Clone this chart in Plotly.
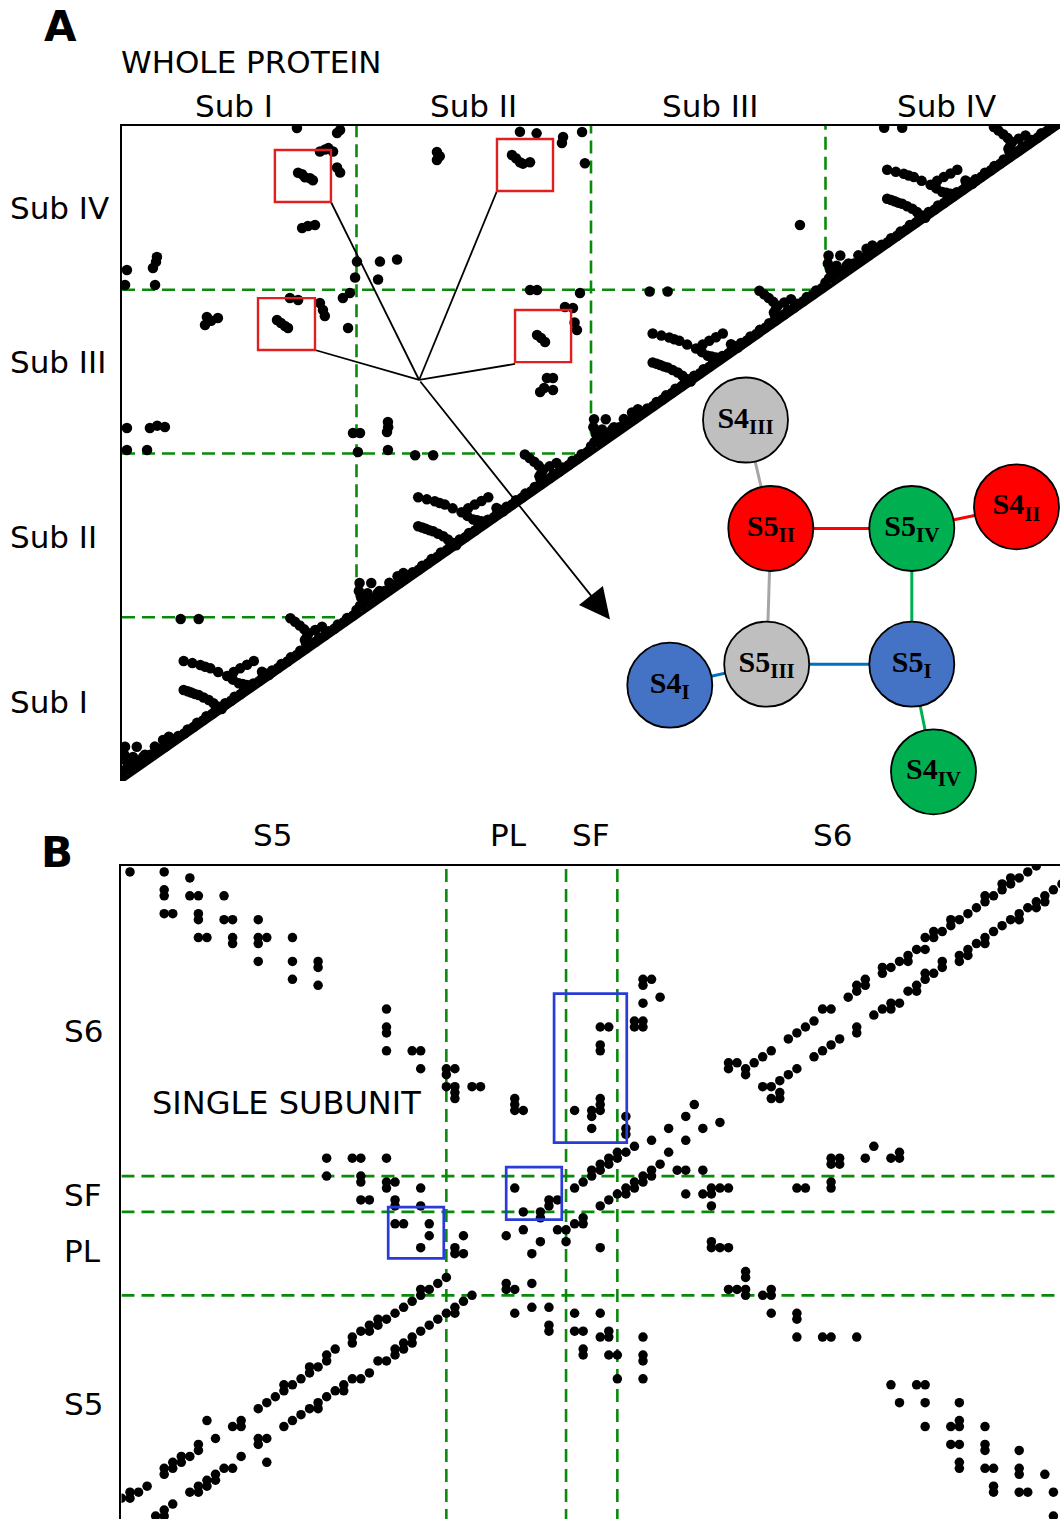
import plotly.graph_objects as go

FIG_W, FIG_H = 1060, 1519

# ======================= Panel A : whole protein =======================
A_SUBUNITS = ["Sub I", "Sub II", "Sub III", "Sub IV"]
A_SUB_LEN = 100
A_BOUNDS = [100, 200, 300]
A_TOP_LABEL_POS = [47.8, 149.7, 250.7, 351.4]
A_LEFT_LABEL_POS = [48, 149, 256, 350]

# intra-subunit contacts (relative to the subunit start), same in every subunit
A_INTRA_BAND = [(0, 4.5), (2.5, 7), (4, 9), (6.5, 10), (8, 12), (10.5, 13.5), (12, 16), (14.5, 17.5),
                (16, 19.5), (18.5, 21), (20, 23.5), (22.5, 25.5), (24, 27.5), (26.5, 29), (28, 31.5),
                (30.5, 33), (32, 35.5), (34.5, 37), (36, 39.5), (38.5, 41), (40, 43.5), (42.5, 45),
                (44, 47.5), (46.5, 49), (48, 51.5), (50.5, 53), (52, 55.5), (54.5, 57), (56, 59.5),
                (58.5, 61), (60, 63.5), (62.5, 65), (64, 67.5), (66.5, 69), (68, 71.5), (70.5, 73),
                (72, 75.5), (74.5, 77), (76, 79.5), (78.5, 81), (80, 83.5), (82.5, 85), (84, 87.5),
                (86.5, 89), (88, 91.5), (90.5, 93), (92, 95.5), (94.5, 97), (96, 99.5), (98.5, 101)]
A_INTRA_CORNER = [(1.3, 20.9), (6.3, 20.9), (9.8, 16), (17.5, 25), (4.7, 14.7), (9, 14.7),
                  (2, 12), (1, 16), (14, 21), (20, 27), (1.5, 7), (4, 11)]
A_INTRA_STREAK1 = [(26.3, 55.6), (28, 54.8), (29.5, 54), (31, 53.2), (32.7, 52.5), (34.8, 51),
                   (37, 49.5), (39, 47.5), (41.2, 45.4), (42.5, 44)]
A_INTRA_STREAK2 = [(26.3, 73.3), (30, 72), (33.4, 70.8), (35.5, 69.8), (37.7, 68.8), (41, 66.5),
                   (44.8, 64.1), (47.6, 66.5), (50.4, 68.8), (53.3, 71), (56.2, 73.3), (47.3, 61.9),
                   (49.8, 59.7), (51.5, 59.2), (53.3, 58.6), (59.7, 66.7), (61, 65.7), (62.6, 64.7),
                   (64, 66.5)]
A_INTRA_STREAK3 = [(71.8, 99.4), (73.8, 97.2), (75.8, 95), (77.7, 92.6), (79.6, 90.2), (78.8, 88),
                   (78, 86.1), (78.5, 84), (82.4, 92.2), (85.3, 94.2)]
A_INTRA_EDGE = [(25, 98.9), (32.7, 98.9)]

# inter-subunit contacts (absolute positions)
A_INTER = [(74.6, 398.8), (93.0, 397.6), (91.7, 395.7), (86.6, 385.6), (90.0, 384.4), (84.4, 384.4),
           (88, 386.5), (91.7, 374.7), (93.0, 371.6), (75.1, 371.5), (76.8, 370.5), (78.0, 368.7),
           (80.2, 368.1), (81.4, 366.9), (76.8, 337.7), (79.3, 338.9), (82.3, 339.5), (2.1, 312.1),
           (1.3, 302.9), (14.9, 320), (13.2, 313.3), (14.1, 302.9), (14.5, 317),
           (100.2, 317.2), (110, 317.2), (117.3, 318.5), (99.4, 307.5), (109.2, 306.3),
           (134.3, 384.1), (134.3, 379.2), (135.5, 381.5), (166.3, 382.3), (168, 380.3),
           (169.7, 377.9), (171, 377), (176.8, 395.5), (188.1, 393.3), (187.6, 389.6),
           (196.2, 396.3), (197.4, 377.3), (174, 377.9), (169.7, 396.5), (289.1, 339.5),
           (71.6, 295), (75.1, 293.7), (84.4, 291.9), (85.7, 287.6), (94.2, 295), (97.2, 298),
           (96.4, 276.6), (86.5, 284), (36.2, 283.4), (40.9, 282.7), (35.4, 278.5), (38, 281),
           (66.1, 281.5), (67.8, 279.7), (69.5, 277.9), (70.8, 276.6), (2.1, 215.6), (11.9, 215.6),
           (18.3, 216.2), (2.1, 202.1), (10.7, 202.1), (15, 217), (98.5, 212.5),
           (101.5, 212.5), (113.4, 219.2), (113, 213.1), (113.4, 202.1), (100.6, 200.9),
           (113.5, 216), (177, 299.8), (174, 299.8), (195.3, 298), (192.3, 288.9), (188.9, 289.5),
           (194, 275.4), (193, 280), (177, 272.4), (178.7, 270.5), (180.4, 268.1), (181.2, 246.1),
           (183.8, 246.1), (178.3, 237.6), (183.8, 238.8), (180, 240)]

A_RED_BOXES = [(65.2, 89.1, 353.6, 385.3), (58.0, 82.3, 263.2, 294.9),
               (159.9, 183.8, 360.3, 392.1), (167.6, 191.5, 255.8, 287.6)]
A_BOX_ANCHORS = [(89.1, 353.6), (159.9, 360.3), (82.3, 263.2), (167.6, 254.7)]
A_HUB = (126.7, 244.9)
A_ARROW_TIP = (208.1, 98.7)

# ======================= Network diagram =======================
NET_LABELS = ["<b>S4<sub>III</sub></b>", "<b>S5<sub>II</sub></b>", "<b>S5<sub>IV</sub></b>",
              "<b>S4<sub>II</sub></b>", "<b>S5<sub>III</sub></b>", "<b>S5<sub>I</sub></b>",
              "<b>S4<sub>I</sub></b>", "<b>S4<sub>IV</sub></b>"]
NET_X = [12.55, 15.08, 29.18, 39.65, 14.67, 29.18, 4.98, 31.35]
NET_Y = [40.0, 29.15, 29.15, 31.32, 15.58, 15.58, 13.48, 4.82]
NET_COLORS = ["#bfbfbf", "#ff0000", "#00b050", "#ff0000", "#bfbfbf", "#4472c4", "#4472c4", "#00b050"]
NET_EDGES = [(0, 1, "#a6a6a6"), (1, 4, "#a6a6a6"), (1, 2, "#ff0000"), (2, 3, "#ff0000"),
             (2, 5, "#00b050"), (5, 7, "#00b050"), (4, 5, "#0070c0"), (6, 4, "#0070c0")]

# ======================= Panel B : single subunit =======================
B_SEGMENTS = ["S5", "PL", "SF", "S6"]
B_BOUNDS = [38, 52, 58]
B_TOP_LABEL_POS = [17.7, 45.3, 54.9, 83.2]
B_LEFT_LABEL_POS = [19.8, 45.4, 54.8, 82.4]
B_BLUE_BOXES = [(50.6, 59.1, 63.6, 88.6), (45.0, 51.5, 50.7, 59.5), (31.2, 37.7, 44.2, 52.8)]

# residue contacts (i < j); the map is symmetric
B_HELIX_S5 = [(0, 4), (1, 4), (1, 5), (2, 5), (3, 6), (5, 8), (5, 9), (6, 9), (6, 10), (7, 10), (7, 11),
              (8, 11), (9, 12), (9, 13), (10, 17), (11, 14), (13, 16), (14, 16), (14, 17), (16, 19),
              (17, 20), (18, 21), (19, 22), (19, 23), (20, 23), (21, 24), (22, 25), (22, 26), (23, 26),
              (24, 27), (24, 28), (25, 29), (27, 30), (27, 31), (28, 32), (29, 32), (29, 33), (30, 33),
              (30, 34), (31, 34), (32, 35), (33, 36), (34, 37), (35, 38), (35, 39), (36, 39), (37, 40),
              (38, 41)]
B_HELIX_SF = [(53, 56), (54, 57), (55, 58), (55, 59), (56, 59), (56, 60), (57, 60), (57, 61), (58, 61),
              (58, 62), (59, 62), (60, 63), (62, 64), (64, 66), (66, 68), (67, 70)]
B_HELIX_S6 = [(71, 76), (71, 77), (72, 77), (73, 75), (73, 76), (74, 77), (75, 78), (76, 79), (78, 81),
              (79, 82), (80, 83), (81, 84), (82, 86), (83, 86), (85, 88), (86, 89), (86, 90), (87, 90),
              (87, 91), (89, 92), (89, 93), (90, 93), (91, 94), (92, 94), (92, 95), (93, 96), (94, 96),
              (94, 98), (95, 98), (95, 99), (96, 99), (97, 100), (97, 101), (98, 101), (99, 102),
              (100, 103), (101, 104), (101, 105), (102, 105), (103, 106), (103, 107), (104, 107),
              (104, 108), (105, 108), (106, 109), (107, 110)]
B_S5_S6 = [(1, 109), (5, 109), (8, 108), (5, 106), (5, 105), (8, 105), (9, 105), (12, 105), (5, 102),
           (6, 102), (9, 102), (9, 101), (12, 101), (13, 101), (16, 101), (9, 98), (10, 98), (13, 98),
           (13, 97), (16, 98), (16, 97), (17, 98), (20, 98), (16, 94), (20, 94), (23, 94), (23, 93),
           (20, 91), (23, 90), (31, 86), (31, 83), (31, 82), (31, 79), (34, 79), (35, 79), (35, 76),
           (38, 76), (39, 76), (38, 75), (38, 73), (39, 73), (39, 72), (39, 71), (41, 73), (42, 73),
           (46, 71), (46, 70), (46, 69), (47, 69)]
B_PLSF_S6 = [(53, 69), (55, 69), (55, 68), (55, 66), (56, 71), (56, 70), (56, 69), (56, 83), (57, 83),
             (56, 80), (56, 79), (59, 68), (59, 66), (59, 65), (60, 83), (60, 84), (61, 83), (61, 84),
             (61, 87), (61, 90), (61, 91), (62, 91), (63, 88)]
B_S5_SF = [(24, 61), (27, 61), (28, 61), (31, 61), (24, 58), (28, 58), (28, 57), (31, 57), (32, 57),
           (31, 56), (35, 56), (28, 54), (29, 54), (32, 54), (32, 53), (35, 53)]
B_S5_PL = [(32, 50), (33, 50), (36, 50), (36, 48), (35, 46), (39, 46), (39, 45), (40, 45), (40, 48)]
B_PL_SF = [(45, 48), (47, 49), (46, 56), (47, 52), (49, 52), (49, 51), (50, 54), (50, 53), (51, 54)]

# ======================= geometry of the page =======================
A_LEFT, A_RIGHT, A_TOP, A_BOTTOM = 122, 1060, 126, 781
B_LEFT, B_RIGHT, B_TOP, B_BOTTOM = 121.45, 1060, 866, 1519
N_LEFT, N_RIGHT, N_TOP, N_BOTTOM = 620, 1060, 370, 820


def xdom(l, r):
    return [l / FIG_W, r / FIG_W]


def ydom(t, b):
    return [(FIG_H - b) / FIG_H, (FIG_H - t) / FIG_H]


GREEN = "#0a8a0a"
DASH = dict(color=GREEN, width=2.6, dash="13px,7px")
FONT = "DejaVu Sans"

fig = go.Figure()

# ---------- Panel A ----------
ax_pts, ay_pts = [], []
intra = A_INTRA_BAND + A_INTRA_CORNER + A_INTRA_STREAK1 + A_INTRA_STREAK2 + A_INTRA_STREAK3 + A_INTRA_EDGE
for s in range(len(A_SUBUNITS)):
    for (u, v) in intra:
        ax_pts.append(s * A_SUB_LEN + u)
        ay_pts.append(s * A_SUB_LEN + v)
for (u, v) in A_INTER:
    ax_pts.append(u)
    ay_pts.append(v)

total = A_SUB_LEN * len(A_SUBUNITS)
for b in A_BOUNDS:
    fig.add_trace(go.Scatter(x=[b, b], y=[b, total], mode="lines", xaxis="x", yaxis="y",
                             line=DASH, hoverinfo="skip", showlegend=False))
    fig.add_trace(go.Scatter(x=[0, b], y=[b, b], mode="lines", xaxis="x", yaxis="y",
                             line=DASH, hoverinfo="skip", showlegend=False))

fig.add_trace(go.Scatter(x=ax_pts, y=ay_pts, mode="markers", xaxis="x", yaxis="y",
                         marker=dict(size=10.5, color="black"), hoverinfo="skip", showlegend=False))
fig.add_trace(go.Scatter(x=[0, total], y=[0, total], mode="lines", xaxis="x", yaxis="y",
                         line=dict(color="black", width=4), hoverinfo="skip", showlegend=False))
for (bx, by) in A_BOX_ANCHORS:
    fig.add_trace(go.Scatter(x=[bx, A_HUB[0]], y=[by, A_HUB[1]], mode="lines", xaxis="x", yaxis="y",
                             line=dict(color="black", width=1.8), hoverinfo="skip", showlegend=False))

# ---------- Network ----------
for (a, b, c) in NET_EDGES:
    fig.add_trace(go.Scatter(x=[NET_X[a], NET_X[b]], y=[NET_Y[a], NET_Y[b]], mode="lines",
                             xaxis="x3", yaxis="y3", line=dict(color=c, width=3),
                             hoverinfo="skip", showlegend=False))
fig.add_trace(go.Scatter(x=NET_X, y=NET_Y, mode="markers+text", xaxis="x3", yaxis="y3",
                         text=NET_LABELS, textposition="middle center",
                         textfont=dict(family="Liberation Serif", size=30, color="black"),
                         marker=dict(size=85, color=NET_COLORS, line=dict(color="black", width=1.8)),
                         cliponaxis=False, hoverinfo="skip", showlegend=False))

# ---------- Panel B ----------
contacts = B_HELIX_S5 + B_HELIX_SF + B_HELIX_S6 + B_S5_S6 + B_PLSF_S6 + B_S5_SF + B_S5_PL + B_PL_SF
bx_pts = [i for (i, j) in contacts] + [j for (i, j) in contacts]
by_pts = [j for (i, j) in contacts] + [i for (i, j) in contacts]
BMAX = 110
for b in B_BOUNDS:
    fig.add_trace(go.Scatter(x=[b, b], y=[0, BMAX], mode="lines", xaxis="x2", yaxis="y2",
                             line=DASH, hoverinfo="skip", showlegend=False))
    fig.add_trace(go.Scatter(x=[0, BMAX], y=[b, b], mode="lines", xaxis="x2", yaxis="y2",
                             line=DASH, hoverinfo="skip", showlegend=False))
fig.add_trace(go.Scatter(x=bx_pts, y=by_pts, mode="markers", xaxis="x2", yaxis="y2",
                         marker=dict(size=9.5, color="black"), hoverinfo="skip", showlegend=False))

shapes = []
for (x0, x1, y0, y1) in A_RED_BOXES:
    shapes.append(dict(type="rect", xref="x", yref="y", x0=x0, x1=x1, y0=y0, y1=y1,
                       line=dict(color="#e02020", width=2.4)))
for (x0, x1, y0, y1) in B_BLUE_BOXES:
    shapes.append(dict(type="rect", xref="x2", yref="y2", x0=x0, x1=x1, y0=y0, y1=y1,
                       line=dict(color="#2a3cd8", width=2.7)))

annotations = []
lab_font = dict(family=FONT, size=31, color="black")
annotations.append(dict(x=A_ARROW_TIP[0], y=A_ARROW_TIP[1], ax=A_HUB[0], ay=A_HUB[1],
                        xref="x", yref="y", axref="x", ayref="y", text="", showarrow=True,
                        arrowhead=2, arrowsize=3.4, arrowwidth=1.8, arrowcolor="black"))
for name, pos in zip(A_SUBUNITS, A_TOP_LABEL_POS):
    annotations.append(dict(x=pos, y=(FIG_H - 106) / FIG_H, xref="x", yref="paper", text=name,
                            showarrow=False, xanchor="center", yanchor="middle", font=lab_font))
for name, pos in zip(A_SUBUNITS, A_LEFT_LABEL_POS):
    annotations.append(dict(x=8 / FIG_W, y=pos, xref="paper", yref="y", text=name,
                            showarrow=False, xanchor="left", yanchor="middle", font=lab_font))
annotations.append(dict(x=119 / FIG_W, y=(FIG_H - 62) / FIG_H, xref="paper", yref="paper",
                        text="WHOLE PROTEIN", showarrow=False, xanchor="left", yanchor="middle",
                        font=lab_font))
annotations.append(dict(x=42 / FIG_W, y=(FIG_H - 26) / FIG_H, xref="paper", yref="paper",
                        text="<b>A</b>", showarrow=False, xanchor="left", yanchor="middle",
                        font=dict(family=FONT, size=42, color="black")))
annotations.append(dict(x=39 / FIG_W, y=(FIG_H - 852) / FIG_H, xref="paper", yref="paper",
                        text="<b>B</b>", showarrow=False, xanchor="left", yanchor="middle",
                        font=dict(family=FONT, size=42, color="black")))
for name, pos in zip(B_SEGMENTS, B_TOP_LABEL_POS):
    annotations.append(dict(x=pos, y=(FIG_H - 835) / FIG_H, xref="x2", yref="paper", text=name,
                            showarrow=False, xanchor="center", yanchor="middle", font=lab_font))
for name, pos in zip(B_SEGMENTS, B_LEFT_LABEL_POS):
    annotations.append(dict(x=62 / FIG_W, y=pos, xref="paper", yref="y2", text=name,
                            showarrow=False, xanchor="left", yanchor="middle", font=lab_font))
annotations.append(dict(x=3.3, y=70.3, xref="x2", yref="y2", text="SINGLE SUBUNIT",
                        showarrow=False, xanchor="left", yanchor="middle",
                        font=dict(family=FONT, size=32, color="black")))

hidden = dict(showgrid=False, zeroline=False, showticklabels=False, ticks="")
fig.update_layout(
    width=FIG_W, height=FIG_H, margin=dict(l=0, r=0, t=0, b=0),
    paper_bgcolor="white", plot_bgcolor="rgba(0,0,0,0)",
    xaxis=dict(domain=xdom(A_LEFT, A_RIGHT), range=[0, total], side="top", showline=True,
               linecolor="black", linewidth=2, anchor="y", **hidden),
    yaxis=dict(domain=ydom(A_TOP, A_BOTTOM), range=[0, total], showline=True,
               linecolor="black", linewidth=2, anchor="x", **hidden),
    xaxis2=dict(domain=xdom(B_LEFT, B_RIGHT), range=[0, (B_RIGHT - B_LEFT) / 8.55], side="top",
                showline=True, linecolor="black", linewidth=2, anchor="y2", **hidden),
    yaxis2=dict(domain=ydom(B_TOP, B_BOTTOM), range=[0.5, BMAX], showline=True,
                linecolor="black", linewidth=2, anchor="x2", **hidden),
    xaxis3=dict(domain=xdom(N_LEFT, N_RIGHT), range=[0, 44], visible=False, anchor="y3"),
    yaxis3=dict(domain=ydom(N_TOP, N_BOTTOM), range=[0, 45], visible=False, anchor="x3"),
    shapes=shapes, annotations=annotations,
)

fig.write_html("out.html")
